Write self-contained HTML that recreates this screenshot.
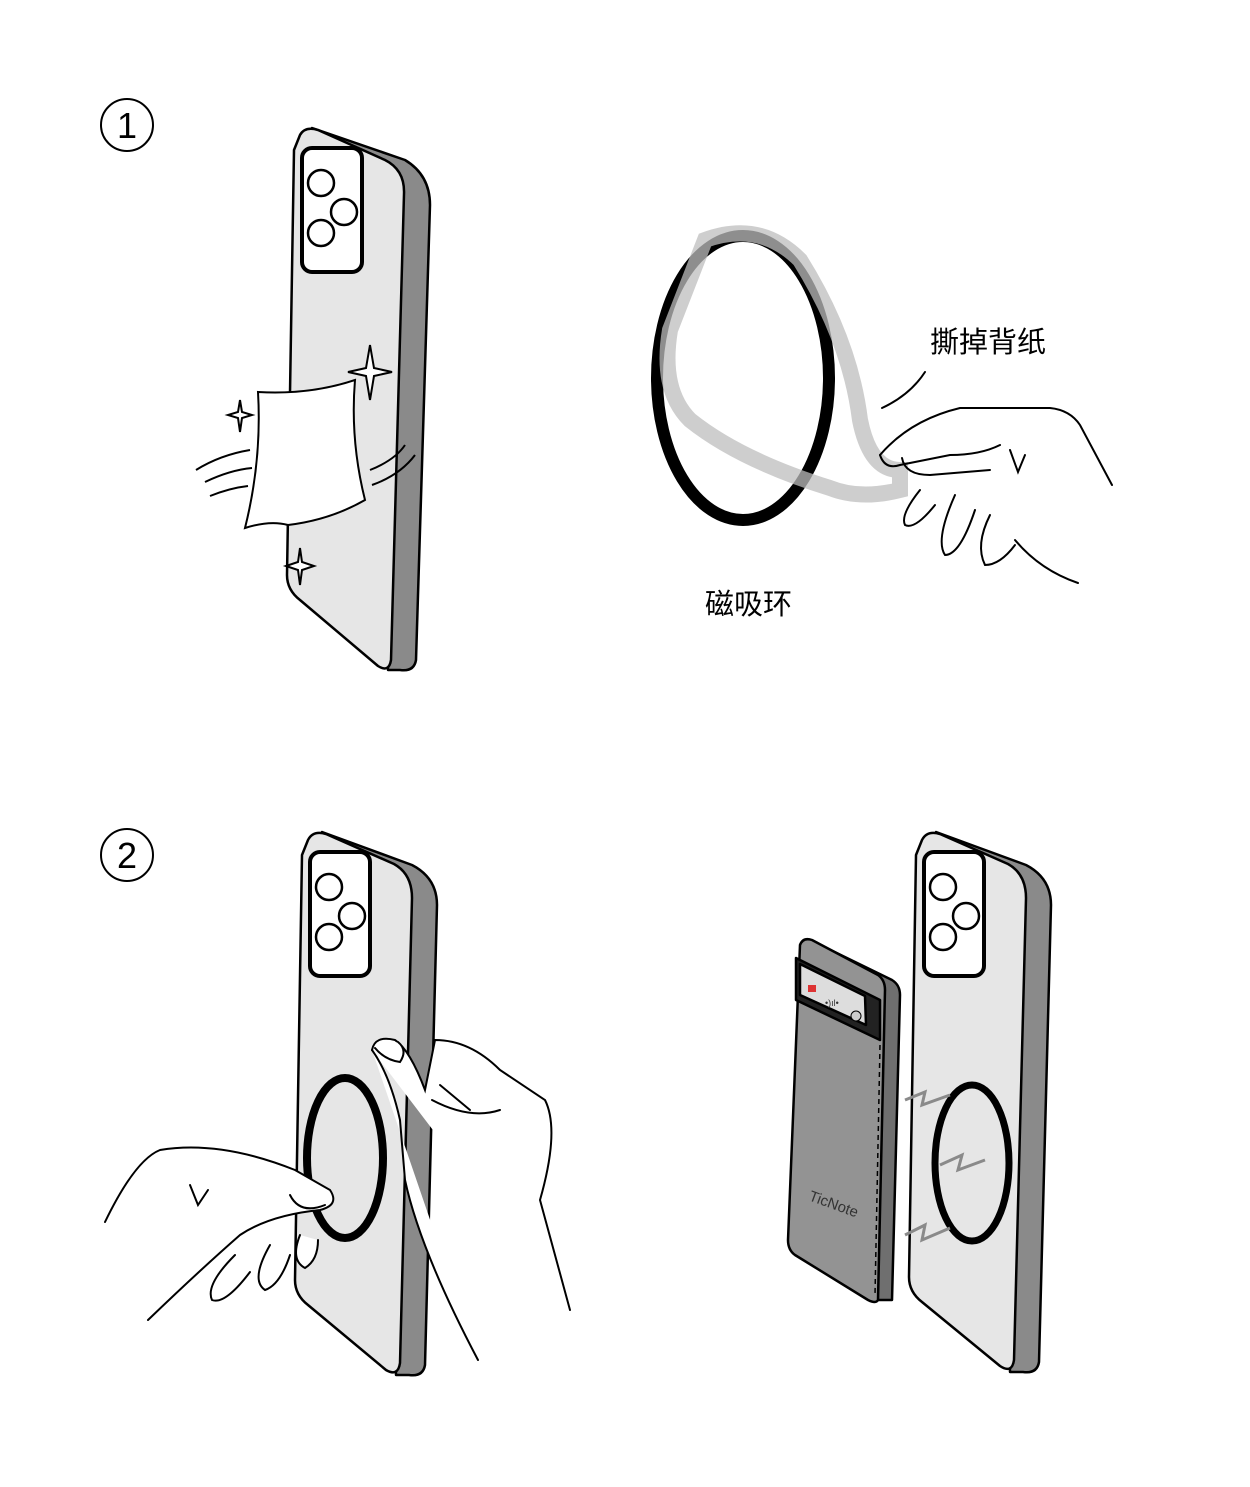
<!DOCTYPE html>
<html><head><meta charset="utf-8"><style>
html,body{margin:0;padding:0;background:#fff;}
svg{display:block}
text{font-family:"Liberation Sans","Noto Sans CJK SC",sans-serif;}
</style></head><body>
<svg width="1250" height="1487" viewBox="0 0 1250 1487" xmlns="http://www.w3.org/2000/svg">
<g fill="none" stroke="#000" stroke-width="2">
<circle cx="127" cy="125" r="26"/>
<circle cx="127" cy="855" r="26"/>
</g>
<text x="127" y="138" font-size="36" text-anchor="middle" fill="#000">1</text>
<text x="127" y="868" font-size="36" text-anchor="middle" fill="#000">2</text>

<!-- Phone 1 -->
<g stroke="#000" stroke-width="2.5" stroke-linejoin="round">
<path d="M312,128 L405,160 Q430,175 430,205 L416,660 Q414,672 400,670 L388,670 L380,180 Z" fill="#8a8a8a"/>
<path d="M300,135 Q305,126 318,130 L385,160 Q405,170 404,194 L391,660 Q389,673 378,666 L300,600 Q287,590 287,575 L294,150 Z" fill="#e6e6e6"/>
<rect x="302" y="148" width="60" height="124" rx="10" fill="#fff" stroke-width="4"/>
<circle cx="321" cy="183" r="13" fill="#fff"/>
<circle cx="344" cy="212" r="13" fill="#fff"/>
<circle cx="321" cy="233" r="13" fill="#fff"/>
</g>
<!-- cloth -->
<g stroke="#000" stroke-width="2" fill="none">
<path d="M258,392 Q310,395 355,380 Q350,440 365,500 Q330,520 288,525 Q270,520 245,528 Q262,460 258,392 Z" fill="#fff"/>
<path d="M196,470 Q220,455 250,450 M205,482 Q230,470 252,468 M210,496 Q230,488 248,486"/>
<path d="M370,470 Q395,460 405,445 M372,485 Q400,475 415,455"/>
<path d="M370,345 L374,368 L392,372 L374,376 L370,400 L366,376 L348,372 L366,368 Z" fill="#fff"/>
<path d="M240,400 L242,412 L252,415 L242,418 L240,432 L238,418 L228,415 L238,412 Z" fill="#fff"/>
<path d="M300,548 L302,562 L314,566 L302,570 L300,585 L298,570 L286,566 L298,562 Z" fill="#fff"/>
</g>

<!-- Ring 1 -->
<ellipse cx="743" cy="378" rx="86" ry="142" fill="none" stroke="#000" stroke-width="12"/>
<path d="M705,240 Q760,220 800,260 Q850,340 860,420 Q870,470 900,470 L900,490 Q860,500 830,488 Q740,460 690,420 Q660,390 670,330 Z" fill="none" stroke="#bdbdbd" stroke-width="16" opacity="0.75"/>
<g stroke="#000" stroke-width="2" fill="none" stroke-linecap="round">
<path d="M882,408 Q910,395 925,372"/>
<path d="M880,455 Q910,420 960,408 L1050,408 Q1070,410 1080,425 L1112,485"/>
<path d="M880,455 Q885,470 900,465 L950,455 Q980,455 1000,445"/>
<path d="M902,458 Q905,475 930,475 L990,470"/>
<path d="M1010,450 L1018,472 L1025,455"/>
<path d="M920,490 Q900,515 905,525 Q915,530 935,505"/>
<path d="M955,495 Q935,540 945,555 Q960,555 975,510"/>
<path d="M990,515 Q975,545 985,565 Q1000,565 1015,545"/>
<path d="M1015,540 Q1040,570 1078,583"/>
</g>
<text x="930" y="352" font-size="29" fill="#000">撕掉背纸</text>
<text x="705" y="614" font-size="29" fill="#000">磁吸环</text>

<!-- Phone 2 -->
<g stroke="#000" stroke-width="2.5" stroke-linejoin="round">
<path d="M322,832 L412,865 Q437,878 437,905 L425,1365 Q423,1377 409,1375 L396,1375 L388,885 Z" fill="#8a8a8a"/>
<path d="M308,840 Q313,830 326,834 L394,864 Q412,874 412,898 L400,1363 Q398,1377 386,1370 L308,1305 Q295,1295 295,1280 L302,855 Z" fill="#e6e6e6"/>
<rect x="310" y="852" width="60" height="124" rx="10" fill="#fff" stroke-width="4"/>
<circle cx="329" cy="887" r="13" fill="#fff"/>
<circle cx="352" cy="916" r="13" fill="#fff"/>
<circle cx="329" cy="937" r="13" fill="#fff"/>
</g>
<ellipse cx="345" cy="1158" rx="38" ry="80" fill="none" stroke="#000" stroke-width="8"/>
<g stroke="#000" stroke-width="2" fill="#fff" stroke-linecap="round">
<path d="M105,1222 Q135,1160 160,1150 Q220,1140 295,1170 L330,1190 Q340,1205 320,1210 Q270,1215 240,1235 Q200,1270 148,1320" />
<path d="M190,1185 L198,1205 L208,1190"/>
<path d="M290,1195 Q300,1215 325,1205"/>
<path d="M235,1255 Q205,1285 212,1300 Q225,1305 250,1272"/>
<path d="M270,1245 Q250,1280 265,1290 Q280,1285 290,1255"/>
<path d="M300,1235 Q290,1260 305,1268 Q318,1260 318,1240"/>
<path d="M372,1050 Q375,1035 395,1040 Q410,1050 425,1090 L435,1040 Q470,1040 500,1070 L545,1100 Q560,1130 540,1200 L570,1310"/>
<path d="M372,1050 Q390,1075 400,1120 L405,1180 Q420,1250 478,1360"/>
<path d="M375,1048 Q385,1060 400,1062 Q408,1050 398,1042"/>
<path d="M432,1100 Q470,1120 500,1110 M440,1085 L470,1110"/>
</g>

<!-- TicNote device -->
<g stroke="#000" stroke-width="2.5" stroke-linejoin="round">
<path d="M810,940 L892,980 Q900,985 900,995 L892,1300 L875,1300 L880,1010 Z" fill="#6f6f6f"/>
<path d="M800,945 Q803,937 812,940 L878,975 Q885,980 885,990 L878,1300 Q876,1304 868,1300 L795,1255 Q788,1250 788,1240 Z" fill="#939393"/>
<path d="M796,958 L880,1000 L880,1040 L796,1000 Z" fill="#222"/>
<path d="M800,964 L865,996 L866,1025 L800,995 Z" fill="#ddd"/>
<rect x="808" y="985" width="8" height="7" fill="#d33" stroke="none"/>
<circle cx="856" cy="1016" r="5" fill="#ccc" stroke-width="1"/>
<line x1="880" y1="1045" x2="875" y2="1295" stroke-dasharray="5,4" stroke-width="1.5"/>
</g>
<text x="808" y="1200" font-size="15" fill="#333" transform="rotate(20 808 1200)">TicNote</text>
<text x="825" y="1006" font-size="9" fill="#333">•)ıl•</text>

<!-- Phone 3 -->
<g stroke="#000" stroke-width="2.5" stroke-linejoin="round">
<path d="M936,832 L1026,865 Q1051,878 1051,905 L1039,1362 Q1037,1374 1023,1372 L1010,1372 L1002,885 Z" fill="#8a8a8a"/>
<path d="M922,840 Q927,830 940,834 L1008,864 Q1026,874 1026,898 L1014,1360 Q1012,1374 1000,1366 L922,1302 Q909,1292 909,1277 L916,855 Z" fill="#e6e6e6"/>
<rect x="924" y="852" width="60" height="124" rx="10" fill="#fff" stroke-width="4"/>
<circle cx="943" cy="887" r="13" fill="#fff"/>
<circle cx="966" cy="916" r="13" fill="#fff"/>
<circle cx="943" cy="937" r="13" fill="#fff"/>
</g>
<ellipse cx="972" cy="1163" rx="37" ry="78" fill="none" stroke="#000" stroke-width="7"/>
<g fill="none" stroke="#8a8a8a" stroke-width="3">
<path d="M905,1100 L925,1092 L922,1105 L950,1095"/>
<path d="M940,1165 L962,1155 L958,1170 L985,1160"/>
<path d="M905,1235 L925,1225 L922,1240 L950,1228"/>
</g>
</svg>
</body></html>
